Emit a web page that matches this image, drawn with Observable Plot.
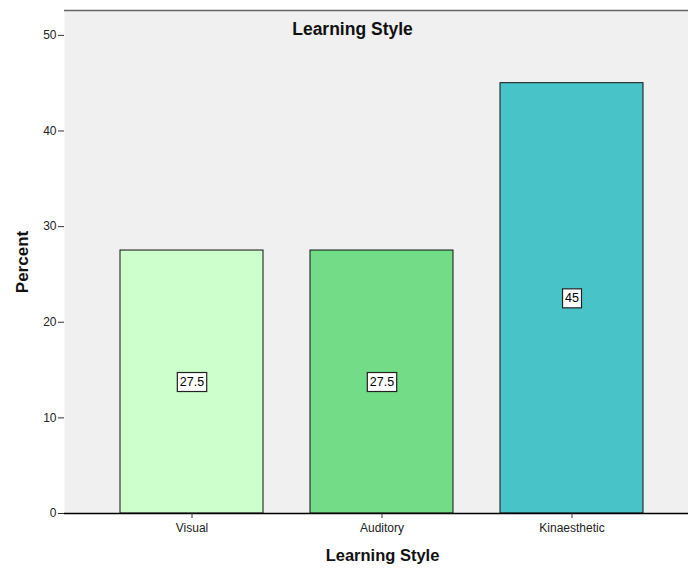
<!DOCTYPE html>
<html>
<head>
<meta charset="utf-8">
<script src="https://cdn.jsdelivr.net/npm/d3@7"></script>
<script src="https://cdn.jsdelivr.net/npm/@observablehq/plot@0.6"></script>
<style>
  html, body { margin: 0; padding: 0; background: #fff; }
  #chart { width: 688px; height: 568px; }
  svg { font-family: "Liberation Sans", Arial, sans-serif; }
</style>
</head>
<body>
<div id="chart"></div>
<script>
const categories = ["Visual", "Auditory", "Kinaesthetic"];
const percents = [27.5, 27.5, 45];
const barColors = ["#ccffcc", "#72dd86", "#48c4c8"];
const yTicks = [0, 10, 20, 30, 40, 50];
const chartTitle = "Learning Style";
const xLabel = "Learning Style";
const yLabel = "Percent";

const data = categories.map((c, i) => ({category: c, percent: percents[i], color: barColors[i]}));

const W = 688, H = 568;
const mL = 64, mT = 10, mB = 55, mR = 0;

const plot = Plot.plot({
  width: W,
  height: H,
  marginLeft: mL,
  marginTop: mT,
  marginBottom: mB,
  marginRight: mR,
  style: {background: "#ffffff", fontFamily: "Liberation Sans, Arial, sans-serif", fontSize: "11px", color: "#000"},
  x: {domain: categories, range: [96.5, 666.5], paddingInner: 0.25, paddingOuter: 0.125, label: null},
  y: {domain: [0, 52.6], label: null},
  marks: [
    Plot.frame({fill: "#f0f0f0", stroke: "none"}),
    Plot.ruleX([0], {frameAnchor: "left", stroke: "#555", strokeWidth: 1.5}),
    Plot.ruleY([52.6], {stroke: "#666", strokeWidth: 1.5}),
    Plot.barY(data, {x: "category", y: "percent", fill: "color", stroke: "#111", strokeWidth: 1}),
    Plot.ruleY([0], {stroke: "#000", strokeWidth: 1.5}),
    Plot.axisY({ticks: yTicks, tickSize: 6, tickPadding: 2, stroke: "#333", fontSize: 12, color: "#222"}),
    Plot.axisX({tickSize: 5, tickPadding: 5, stroke: "#333", fontSize: 12, color: "#222"}),
    Plot.text(data, {
      x: "category",
      y: d => d.percent / 2,
      text: d => String(d.percent),
      fontSize: 12.5,
      fill: "#000",
      className: "vlabel"
    }),
    Plot.text([chartTitle], {frameAnchor: "top", dx: -24, dy: 12, fontSize: 17.5, fontWeight: "bold", fill: "#111"}),
    Plot.text([xLabel], {frameAnchor: "bottom", dx: 6, dy: 47, fontSize: 16.5, fontWeight: "bold", fill: "#111"}),
    Plot.text([yLabel], {frameAnchor: "left", textAnchor: "middle", dx: -42, dy: 0, rotate: -90, fontSize: 17, fontWeight: "bold", fill: "#111"})
  ]
});

document.getElementById("chart").appendChild(plot);

// White boxes with outline behind the value labels
d3.select(plot).selectAll("g.vlabel text").each(function() {
  const b = this.getBBox();
  const padX = 2.5, padY = 2.5;
  const r = d3.select(this.parentNode).insert("rect", () => this)
    .attr("x", b.x - padX)
    .attr("y", b.y - padY)
    .attr("width", b.width + 2 * padX)
    .attr("height", b.height + 2 * padY)
    .attr("fill", "#fff")
    .attr("stroke", "#222")
    .attr("stroke-width", 1.2);
  const t = this.getAttribute("transform");
  if (t) r.attr("transform", t);
  const tx = this.getAttribute("x"), ty = this.getAttribute("y");
  if (tx != null && !t) r.attr("transform", `translate(${tx},${ty || 0})`);
});
</script>
</body>
</html>
